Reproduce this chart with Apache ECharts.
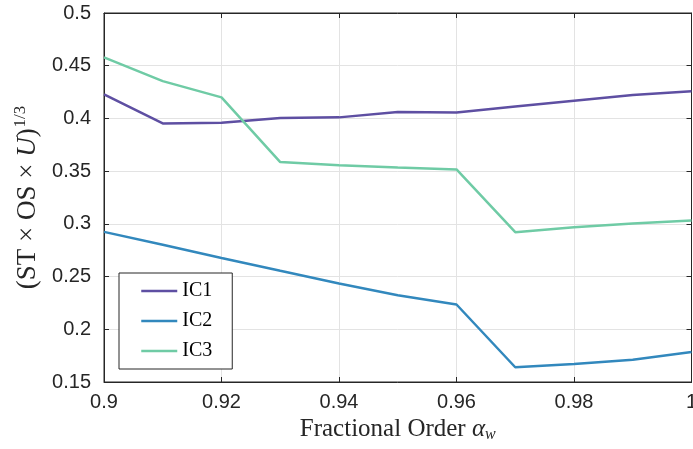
<!DOCTYPE html>
<html>
<head>
<meta charset="utf-8">
<script src="https://cdn.jsdelivr.net/npm/echarts@6/dist/echarts.min.js"></script>
<style>
  html, body { margin: 0; padding: 0; background: #fff; }
  #chart { width: 693px; height: 449px; }
</style>
</head>
<body>
<div id="chart"></div>
<script>
const alphaW = [0.90, 0.91, 0.92, 0.93, 0.94, 0.95, 0.96, 0.97, 0.98, 0.99, 1.00];
const ic1 = [0.4228, 0.3953, 0.3959, 0.4003, 0.4010, 0.4060, 0.4057, 0.4114, 0.4168, 0.4222, 0.4257];
const ic2 = [0.2924, 0.2801, 0.2677, 0.2555, 0.2434, 0.2323, 0.2235, 0.1640, 0.1671, 0.1712, 0.1785];
const ic3 = [0.4579, 0.4354, 0.4200, 0.3586, 0.3557, 0.3535, 0.3516, 0.2921, 0.2968, 0.3003, 0.3032];
const seriesNames = ['IC1', 'IC2', 'IC3'];
const seriesColors = ['#5e4fa2', '#3288bd', '#6fcba5'];

const chart = echarts.init(document.getElementById('chart'));

const toPairs = (ys) => alphaW.map((x, i) => [x, ys[i]]);
const axisDark = '#262626';
const tickFont = { fontFamily: 'Liberation Sans', fontSize: 20, color: axisDark };

chart.setOption({
    animation: false,
    grid: {
        left: 104, right: 1.5, top: 13, bottom: 67,
        containLabel: false, outerBoundsMode: 'none',
        show: true, borderColor: axisDark, borderWidth: 1
    },
    legend: {
        left: 119, top: 273,
        orient: 'vertical',
        backgroundColor: '#fff',
        borderColor: axisDark, borderWidth: 1,
        padding: [8, 20, 8, 21],
        itemWidth: 36, itemHeight: 20, itemGap: 10,
        itemStyle: { opacity: 0 },
        lineStyle: { width: 2.5 },
        textStyle: { fontFamily: 'Liberation Serif', fontSize: 20, color: '#000' },
        data: seriesNames
    },
    xAxis: [{
        type: 'value', min: 0.9, max: 1, interval: 0.02,
        axisLine: { lineStyle: { color: axisDark } },
        axisTick: { inside: true, length: 5, lineStyle: { color: axisDark } },
        axisLabel: { ...tickFont, margin: 10, formatter: v => String(+v.toFixed(2)) },
        splitLine: { lineStyle: { color: '#e3e3e3' } },
        name: '{a|Fractional Order }{b|α}{c|w}',
        nameLocation: 'middle', nameGap: 29,
        nameTextStyle: {
            rich: {
                a: { fontFamily: 'Liberation Serif', fontSize: 25, color: axisDark },
                b: { fontFamily: 'Liberation Serif', fontStyle: 'italic', fontSize: 25, color: axisDark },
                c: { fontFamily: 'Liberation Serif', fontStyle: 'italic', fontSize: 16, color: axisDark, padding: [10, 0, 0, 0] }
            }
        }
    }, {
        type: 'value', min: 0.9, max: 1, interval: 0.02, position: 'top',
        axisLine: { lineStyle: { color: axisDark } },
        axisTick: { inside: true, length: 5, lineStyle: { color: axisDark } },
        axisLabel: { show: false }, splitLine: { show: false }
    }],
    yAxis: [{
        type: 'value', min: 0.15, max: 0.5, interval: 0.05,
        axisLine: { show: true, lineStyle: { color: axisDark } },
        axisTick: { show: true, inside: true, length: 5, lineStyle: { color: axisDark } },
        axisLabel: { ...tickFont, margin: 13, formatter: v => String(+v.toFixed(2)) },
        splitLine: { lineStyle: { color: '#e3e3e3' } },
        name: '{a|(ST × OS × }{b|U}{a|)}{c|1/3}',
        nameLocation: 'middle', nameGap: 60, nameRotate: 90,
        nameTextStyle: {
            rich: {
                a: { fontFamily: 'Liberation Serif', fontSize: 27, color: axisDark },
                b: { fontFamily: 'Liberation Serif', fontStyle: 'italic', fontSize: 27, color: axisDark },
                c: { fontFamily: 'Liberation Serif', fontSize: 17, color: axisDark, padding: [0, 0, 15, 1] }
            }
        }
    }, {
        type: 'value', min: 0.15, max: 0.5, interval: 0.05, position: 'right',
        axisLine: { show: true, lineStyle: { color: axisDark } },
        axisTick: { show: true, inside: true, length: 5, lineStyle: { color: axisDark } },
        axisLabel: { show: false }, splitLine: { show: false }
    }],
    series: [ic1, ic2, ic3].map((ys, i) => ({
        name: seriesNames[i],
        type: 'line',
        data: toPairs(ys),
        symbol: 'none',
        color: seriesColors[i],
        lineStyle: { width: 2.5, color: seriesColors[i] }
    }))
});
</script>
</body>
</html>
